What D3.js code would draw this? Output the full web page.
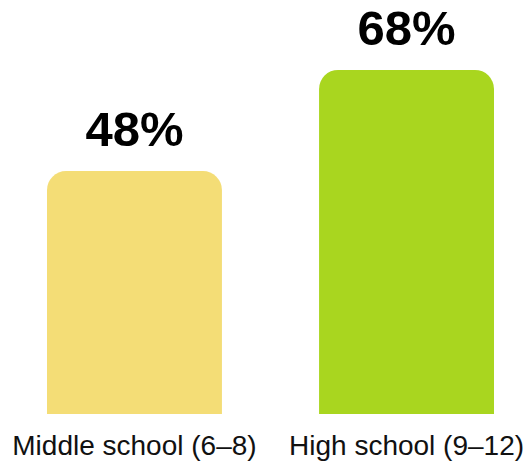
<!DOCTYPE html>
<html>
<head>
<meta charset="utf-8">
<script src="https://cdn.jsdelivr.net/npm/d3@7"></script>
<style>
html,body{margin:0;padding:0;background:#fff;}
svg{display:block;}
</style>
</head>
<body>
<svg id="chart" width="529" height="462"></svg>
<script>
const categories = ["Middle school (6\u20138)", "High school (9\u201312)"];
const values = [48, 68];
const colors = ["#F4DD76", "#A9D61F"];
const valueLabels = ["48%", "68%"];

const svg = d3.select("#chart");
const x = d3.scaleBand().domain(categories).range([47, 494]).paddingInner(0.357).paddingOuter(0);
const y = d3.scaleLinear().domain([0, 100]).range([414, -92]);
const r = 19;

function barPath(x0, w, yTop, yBot) {
  const rr = Math.min(r, w / 2, (yBot - yTop));
  return `M${x0},${yBot}V${yTop + rr}A${rr},${rr} 0 0 1 ${x0 + rr},${yTop}H${x0 + w - rr}A${rr},${rr} 0 0 1 ${x0 + w},${yTop + rr}V${yBot}Z`;
}

categories.forEach((c, i) => {
  svg.append("path")
    .attr("d", barPath(x(c), x.bandwidth(), y(values[i]), y(0)))
    .attr("fill", colors[i]);
  svg.append("text")
    .attr("x", x(c) + x.bandwidth() / 2)
    .attr("y", y(values[i]) - 25)
    .attr("text-anchor", "middle")
    .attr("font-family", "Liberation Sans, Arial, sans-serif")
    .attr("font-weight", "bold")
    .attr("font-size", 49)
    .attr("fill", "#000")
    .text(valueLabels[i]);
  svg.append("text")
    .attr("x", x(c) + x.bandwidth() / 2)
    .attr("y", 455)
    .attr("text-anchor", "middle")
    .attr("font-family", "Liberation Sans, Arial, sans-serif")
    .attr("font-size", 28)
    .attr("fill", "#111")
    .text(c);
});
</script>
</body>
</html>
